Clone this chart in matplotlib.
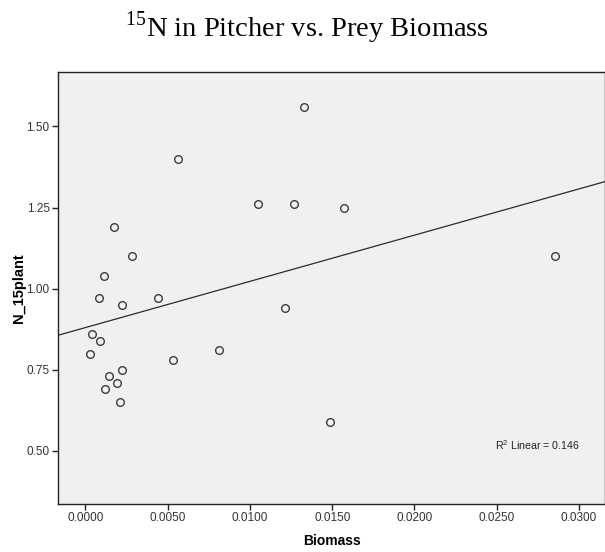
import matplotlib
matplotlib.use("Agg")
import matplotlib.pyplot as plt
import numpy as np

# prey biomass vs 15N in pitcher plant
biomass = [0.01330, 0.00562, 0.01050, 0.01270, 0.01570, 0.00171, 0.00283,
           0.02854, 0.00112, 0.00082, 0.00441, 0.00222, 0.01213, 0.00041,
           0.00090, 0.00029, 0.00812, 0.00530, 0.00222, 0.00141, 0.00190,
           0.00120, 0.00212, 0.01485]
n15_plant = [1.56, 1.40, 1.26, 1.26, 1.25, 1.19, 1.10,
             1.10, 1.04, 0.97, 0.97, 0.95, 0.94, 0.86,
             0.84, 0.80, 0.81, 0.78, 0.75, 0.73, 0.71,
             0.69, 0.65, 0.59]
# linear fit line as drawn by SPSS
fit_intercept = 0.880
fit_slope = 14.25
x_ticks = [0.0, 0.005, 0.010, 0.015, 0.020, 0.025, 0.030]
y_ticks = [0.50, 0.75, 1.00, 1.25, 1.50]
r2_label = r"R$^{\mathsf{2}}$ Linear = 0.146"

plt.rcParams['font.family'] = ['Liberation Sans', 'DejaVu Sans']
plt.rcParams['mathtext.fontset'] = 'custom'
plt.rcParams['mathtext.rm'] = 'Liberation Serif'
plt.rcParams['mathtext.sf'] = 'Liberation Sans'

fig = plt.figure(figsize=(6.05, 5.52), dpi=100)
ax = fig.add_axes([58 / 605, 1 - 504 / 552, 547 / 605, 432 / 552])
ax.set_facecolor('#f0f0f0')

ax.plot(biomass, n15_plant, 'o', markersize=5.5, markerfacecolor='none',
        markeredgecolor='#3c3c3c', markeredgewidth=1.0, zorder=3)

xlim = (-0.00167, 0.03158)
xs = np.array(xlim)
ax.plot(xs, fit_slope * xs + fit_intercept, color='#2a2a2a', linewidth=0.9)

ax.set_xlim(*xlim)
ax.set_ylim(0.336, 1.668)
ax.set_xticks(x_ticks)
ax.set_xticklabels([f'{v:.4f}' for v in x_ticks])
ax.set_yticks(y_ticks)
ax.set_yticklabels([f'{v:.2f}' for v in y_ticks])
ax.tick_params(direction='out', length=4, width=1, color='#222222',
               labelsize=8.5, labelcolor='#333333', pad=2)
ax.tick_params(top=False, right=False)
for s in ax.spines.values():
    s.set_color('#222222')
    s.set_linewidth(1.0)

ax.set_xlabel('Biomass', fontsize=10, fontweight='bold', labelpad=7)
ax.set_ylabel('N_15plant', fontsize=10.5, fontweight='bold', labelpad=0.5)

ax.text(0.799, 0.137, r2_label, transform=ax.transAxes, fontsize=7.7,
        color='#222222', va='center')

fig.text(0.507, 1 - 37 / 552, r'$^{\mathrm{15}}$N in Pitcher vs. Prey Biomass',
         ha='center', va='baseline', fontsize=20.5, family='Liberation Serif')

fig.savefig('out.png', dpi=100)
